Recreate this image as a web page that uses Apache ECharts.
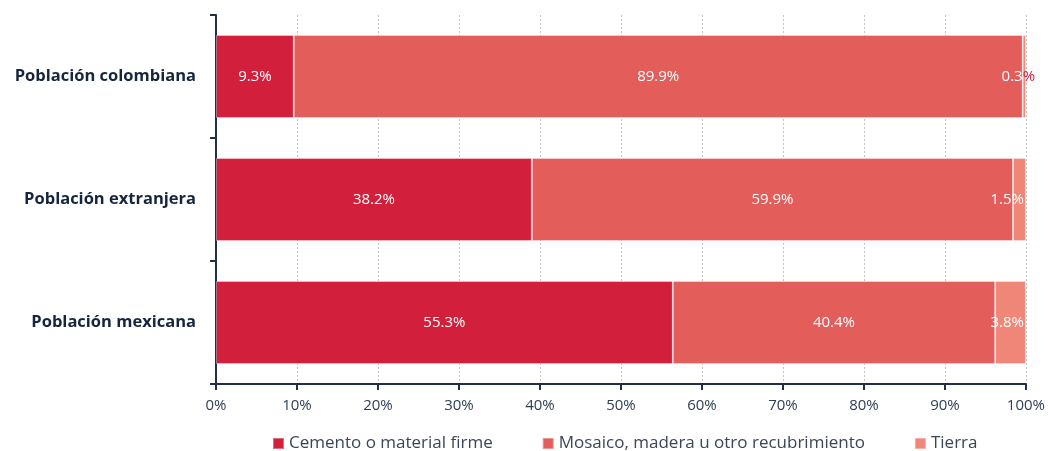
<!DOCTYPE html>
<html>
<head>
<meta charset="utf-8">
<script src="https://cdn.jsdelivr.net/npm/echarts@6/dist/echarts.min.js"></script>
<style>html,body{margin:0;padding:0;background:#fff}#c{width:1048px;height:451px}</style>
</head>
<body>
<div id="c"></div>
<script>
var categories = ['Población mexicana', 'Población extranjera', 'Población colombiana'];
var seriesNames = ['Cemento o material firme', 'Mosaico, madera u otro recubrimiento', 'Tierra'];
// bar lengths as drawn (percent)
var cemento = [56.4, 39.0, 9.6];
var mosaico = [39.8, 59.4, 90.0];
var tierra = [3.8, 1.6, 0.4];
// printed labels
var cementoLabels = ['55.3%', '38.2%', '9.3%'];
var mosaicoLabels = ['40.4%', '59.9%', '89.9%'];
var tierraLabels = ['3.8%', '1.5%', '0.3%'];
var xTicks = ['0%','10%','20%','30%','40%','50%','60%','70%','80%','90%','100%'];

var colors = ['#D21F3C', '#E35D5A', '#F08678'];
var FONT = 'Open Sans';

function items(vals, labels, extra) {
  return vals.map(function (v, i) {
    var it = { value: v, lbl: labels[i] };
    if (extra && extra[i]) it.label = extra[i];
    return it;
  });
}

var chart = echarts.init(document.getElementById('c'));
var baseLabel = {
  show: true, position: 'inside', color: '#fff', fontFamily: FONT, fontSize: 15,
  formatter: function (p) { return p.data.lbl; }
};
var border = { borderColor: 'rgba(255,255,255,0.35)', borderWidth: 1 };

chart.setOption({
  animation: false,
  textStyle: { fontFamily: FONT },
  grid: { left: 216, right: 21, top: 15, bottom: 67 },
  legend: {
    top: 430, left: 267,
    itemWidth: 11, itemHeight: 11, itemGap: 49,
    icon: 'rect',
    textStyle: { fontFamily: FONT, fontSize: 17, color: '#3a4658' },
    data: seriesNames
  },
  xAxis: {
    type: 'value', min: 0, max: 100, interval: 10,
    axisLine: { show: true, lineStyle: { color: '#1f3048', width: 2 } },
    axisTick: { show: true, length: 6, lineStyle: { color: '#1f3048', width: 2 } },
    axisLabel: { color: '#2d3e55', fontFamily: FONT, fontSize: 15, margin: 14,
      formatter: function (v) { return xTicks[Math.round(v / 10)]; } },
    splitLine: { show: true, lineStyle: { color: '#c4c4c4', type: [2, 2], width: 1 } }
  },
  yAxis: {
    type: 'category', data: categories,
    axisLine: { show: true, lineStyle: { color: '#1f3048', width: 2 } },
    axisTick: { show: true, length: 6, lineStyle: { color: '#1f3048', width: 2 } },
    axisLabel: { color: '#15253f', fontFamily: FONT, fontWeight: 'bold', fontSize: 16.5, margin: 20 }
  },
  series: [
    { name: seriesNames[0], type: 'bar', stack: 't', barWidth: 83,
      itemStyle: Object.assign({ color: colors[0] }, border),
      label: baseLabel, data: items(cemento, cementoLabels) },
    { name: seriesNames[1], type: 'bar', stack: 't', barWidth: 83,
      itemStyle: Object.assign({ color: colors[1] }, border),
      label: baseLabel, data: items(mosaico, mosaicoLabels) },
    { name: seriesNames[2], type: 'bar', stack: 't', barWidth: 83,
      itemStyle: Object.assign({ color: colors[2] }, border),
      label: Object.assign({}, baseLabel, { position: 'insideRight', distance: 2 }),
      data: items(tierra, tierraLabels, [null, null, {
        position: 'inside', offset: [-6, 0],
        formatter: '{w|0.3}{r|%}',
        rich: { w: { color: '#fff', fontFamily: FONT, fontSize: 15 }, r: { color: '#D21F3C', fontFamily: FONT, fontSize: 15 } }
      }]) }
  ]
});
</script>
</body>
</html>
